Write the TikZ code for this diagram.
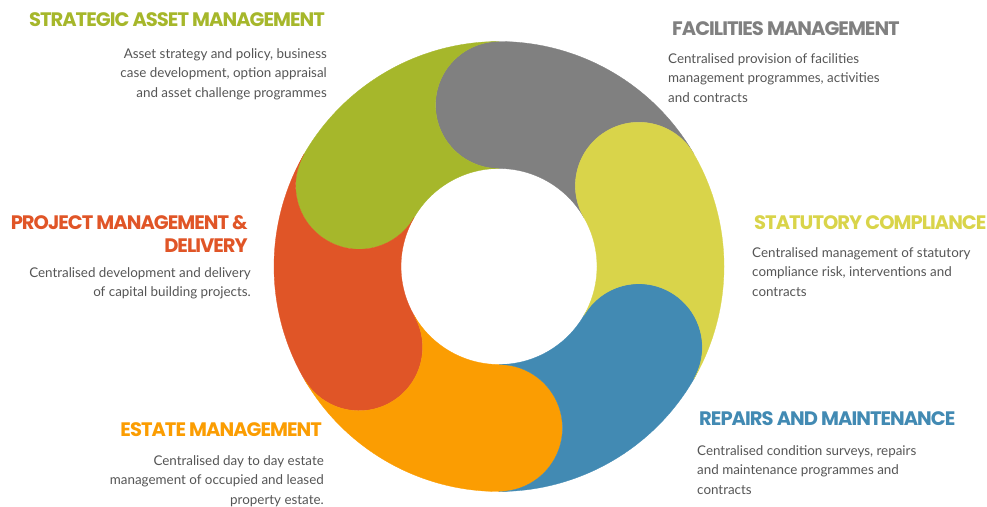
\documentclass[tikz,border=0pt]{standalone}
\usepackage{fontspec}
\setmainfont{Lato}
\newfontfamily\headfont[LetterSpace=-5]{Poppins}
\usetikzlibrary{positioning}

\definecolor{samgreen}{HTML}{A6B72B}
\definecolor{fmgrey}{HTML}{808080}
\definecolor{scyellow}{HTML}{D9D44A}
\definecolor{rmblue}{HTML}{428AB3}
\definecolor{emorange}{HTML}{FB9D02}
\definecolor{pmred}{HTML}{E05527}
\definecolor{bodytext}{HTML}{555555}

% ring radii
\def\outR{225pt}
\def\inR{98pt}
\def\capR{63.5pt}

% one piece of the ring: colour, from angle, to angle
% (round head at the "to" end, hollow at the "from" end)
\newcommand{\ringpart}[3]{%
  \fill[#1, draw=#1, line width=0.3pt]
    (#2:\outR) arc[start angle=#2, end angle=#3, radius=\outR]
    arc[start angle=#3, end angle=#3+180, radius=\capR]
    arc[start angle=#3, end angle=#2, radius=\inR]
    arc[start angle=#2+180, end angle=#2, radius=\capR] -- cycle;}

\begin{document}
\begin{tikzpicture}[x=1pt,y=1pt,
  head/.style={font=\headfont\bfseries\fontsize{19.5}{23}\selectfont, inner sep=0pt},
  body/.style={font=\fontsize{13.4}{19.5}\selectfont, text=bodytext, inner sep=0pt}]
  \useasboundingbox (0,0) rectangle (987,-506);

  \begin{scope}[shift={(499,-266.5)}]
    \ringpart{fmgrey}{30}{90}
    \ringpart{samgreen}{90}{150}
    \ringpart{pmred}{150}{210}
    \ringpart{emorange}{-150}{-90}
    \ringpart{rmblue}{-90}{-30}
    \ringpart{scyellow}{-30}{30}
  \end{scope}

  \path
  node[head, text=samgreen, anchor=base east] (sam) at (325,-27) {STRATEGIC ASSET MANAGEMENT}
  node[body, align=right, below left=21pt and -2pt of sam.south east] (samtext)
  {Asset strategy and policy, business\\
   case development, option appraisal\\
   and asset challenge programmes}

  node[head, text=fmgrey, anchor=base west] (fm) at (672,-35) {FACILITIES MANAGEMENT}
  node[body, align=left, below right=18pt and -4pt of fm.south west] (fmtext)
  {Centralised provision of facilities\\
   management programmes, activities\\
   and contracts}

  node[head, text=pmred, align=right, anchor=north east] (pmd) at (248,-215)
  {PROJECT MANAGEMENT \&\\ DELIVERY}
  node[body, align=right, below left=15pt and -3pt of pmd.south east] (pmdtext)
  {Centralised development and delivery\\
   of capital building projects.}

  node[head, text=scyellow, anchor=base west] (sc) at (754,-229) {STATUTORY COMPLIANCE}
  node[body, align=left, below right=18pt and -2pt of sc.south west] (sctext)
  {Centralised management of statutory\\
   compliance risk, interventions and\\
   contracts}

  node[head, text=emorange, anchor=base east] (em) at (322,-436) {ESTATE MANAGEMENT}
  node[body, align=right, below left=19pt and -2pt of em.south east] (emtext)
  {Centralised day to day estate\\
   management of occupied and leased\\
   property estate.}

  node[head, text=rmblue, anchor=base west] (rm) at (699,-425) {REPAIRS AND MAINTENANCE}
  node[body, align=left, below right=20pt and -2pt of rm.south west] (rmtext)
  {Centralised condition surveys, repairs\\
   and maintenance programmes and\\
   contracts}
  ;
\end{tikzpicture}
\end{document}
